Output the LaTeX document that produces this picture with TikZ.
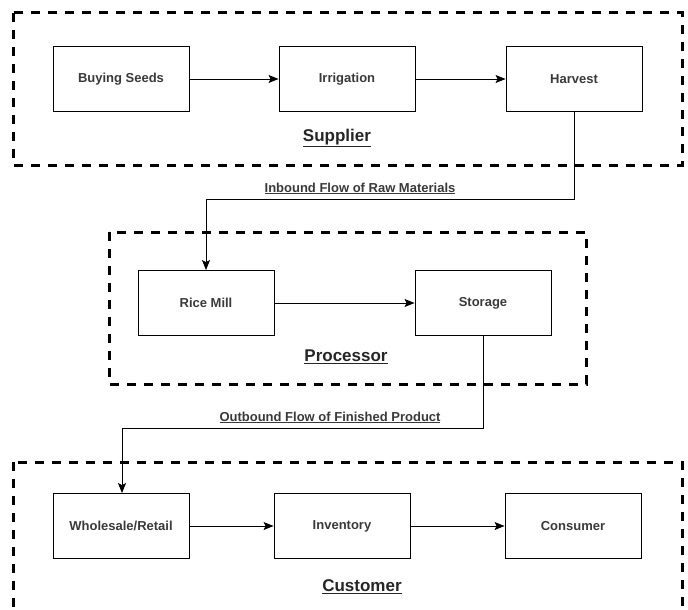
\documentclass[tikz,border=0pt]{standalone}
\usepackage{fontspec}
\setmainfont{Liberation Sans}
\usetikzlibrary{arrows.meta}
\definecolor{txtgray}{HTML}{3A3A3A}

\tikzstyle{step1}=[rectangle,draw=black,fill=white,line width=0.9pt,minimum width=136pt,minimum height=65pt,inner sep=0pt,text=txtgray,font=\fontsize{13}{16}\selectfont\bfseries]
\tikzstyle{group}=[draw=black,line width=3pt,dash pattern=on 9pt off 8pt]
\tikzstyle{grouplabel}=[inner sep=0pt,text=black!85,font=\fontsize{17}{20}\selectfont\bfseries]
\tikzstyle{flowlabel}=[inner sep=0pt,anchor=base,text=txtgray,font=\fontsize{13}{16}\selectfont\bfseries]

\begin{document}
\begin{tikzpicture}[x=1pt,y=-1pt,>={Stealth[length=10pt,width=8pt,inset=2pt]}]
	\clip (0,0) rectangle (688,610);
	\fill[white] (0,0) rectangle (688,610);

	% supplier
	\draw [group] (13,13) rectangle (682,165);
	\node (seeds) at (121,79) [step1] {Buying Seeds};
	\node (irrig) at (347,79) [step1] {Irrigation};
	\node (harvest) at (574,79) [step1] {Harvest};
	\node (supplier) at (337,138) [grouplabel] {\underline{Supplier}};

	% processor
	\draw [group] (109,232) rectangle (586,384);
	\node (mill) at (206,303) [step1] {Rice Mill};
	\node (storage) at (483,303) [step1] {Storage};
	\node (processor) at (346,357) [grouplabel] {\underline{Processor}};

	% customer
	\draw [group] (13,462) rectangle (682,650);
	\node (retail) at (121,526) [step1] {Wholesale/Retail};
	\node (inventory) at (342,526) [step1] {Inventory};
	\node (consumer) at (573,526) [step1] {Consumer};
	\node (customer) at (362,587) [grouplabel] {\underline{Customer}};

	\coordinate (h1) at (574,199);
	\coordinate (h2) at (206,199);
	\coordinate (s1) at (483,428);
	\coordinate (s2) at (122,428);

	\node (inbound) at (360,192) [flowlabel] {\underline{Inbound Flow of Raw Materials}};
	\node (outbound) at (330,421) [flowlabel] {\underline{Outbound Flow of Finished Product}};

	\draw [->,line width=0.9pt] (seeds) to (irrig);
	\draw [->,line width=0.9pt] (irrig) to (harvest);
	\draw [->,line width=0.9pt] (mill) to (storage);
	\draw [->,line width=0.9pt] (retail) to (inventory);
	\draw [->,line width=0.9pt] (inventory) to (consumer);

	\draw [->,line width=0.9pt] (harvest.south) -- (h1) -- (h2) -- (mill.north);
	\draw [->,line width=0.9pt] (storage.south) -- (s1) -- (s2) -- (retail.north -| s2);

\end{tikzpicture}
\end{document}
